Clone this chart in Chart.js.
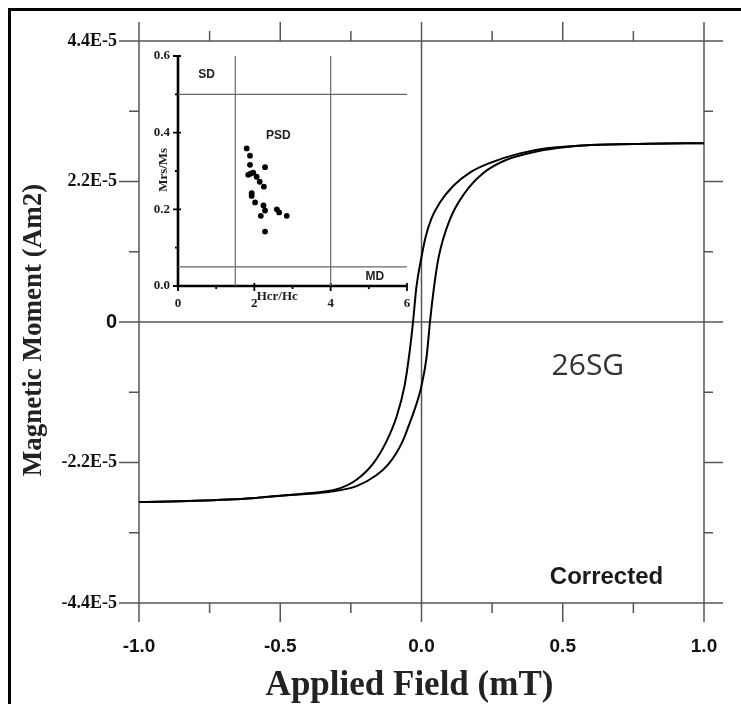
<!DOCTYPE html>
<html><head><meta charset="utf-8">
<script src="https://cdn.jsdelivr.net/npm/chart.js@4.4.0/dist/chart.umd.min.js"></script>
<style>
html,body{margin:0;padding:0;background:#fff;}
#wrap{position:relative;width:741px;height:704px;overflow:hidden;background:#fff;}
#frame{position:absolute;left:8px;top:8px;width:740px;height:700px;border-left:3px solid #000;border-top:3px solid #000;pointer-events:none;}
#main{position:absolute;left:0;top:0;}
#inset{position:absolute;left:130px;top:45px;}
</style></head><body>
<div id="wrap">
<canvas id="main" width="741" height="704"></canvas>
<canvas id="inset" width="290" height="270"></canvas>
<div id="frame"></div>
</div>
<script>
// ---------- main hysteresis loop (field in mT, moment in units of 1E-5 Am2) ----------
const fieldDescending  = [-1.0,-0.8,-0.6,-0.5,-0.4,-0.3,-0.23,-0.17,-0.124,-0.088,-0.06,-0.043,-0.030,-0.018,0.0,0.015,0.035,0.065,0.112,0.171,0.242,0.348,0.443,0.596,0.8,1.0];
const momentDescending = [-2.82,-2.80,-2.76,-2.72,-2.68,-2.62,-2.47,-2.21,-1.87,-1.48,-1.0,-0.50,0.0,0.55,1.02,1.34,1.62,1.87,2.13,2.34,2.49,2.64,2.72,2.77,2.79,2.80];
const fieldAscending   = [-1.0,-0.8,-0.6,-0.5,-0.4,-0.325,-0.23,-0.16,-0.12,-0.09,-0.065,-0.045,-0.025,-0.01,0.0,0.018,0.030,0.043,0.060,0.100,0.153,0.218,0.301,0.407,0.514,0.6,0.8,1.0];
const momentAscending  = [-2.82,-2.80,-2.76,-2.72,-2.69,-2.66,-2.57,-2.40,-2.24,-2.06,-1.85,-1.62,-1.38,-1.17,-1.0,-0.55,0.0,0.50,1.00,1.60,2.02,2.33,2.54,2.67,2.74,2.77,2.79,2.80];

const xTickValues = [-1.0,-0.5,0.0,0.5,1.0];
const xTickLabels = ['-1.0','-0.5','0.0','0.5','1.0'];
const xMinorTickValues = [-0.75,-0.25,0.25,0.75];
const yTickValues = [-4.4,-2.2,0,2.2,4.4];
const yTickLabels = ['-4.4E-5','-2.2E-5','0','2.2E-5','4.4E-5'];
const yMinorTickValues = [-3.3,-1.1,1.1,3.3];
const xAxisTitle = 'Applied Field (mT)';
const yAxisTitle = 'Magnetic Moment (Am2)';

// ---------- inset Day plot ----------
const insetHcrHc = [1.80,1.886,1.886,2.28,1.84,1.90,1.97,2.06,2.14,2.25,1.93,1.93,2.02,2.24,2.28,2.17,2.59,2.65,2.85,2.28];
const insetMrsMs = [0.359,0.340,0.316,0.310,0.290,0.293,0.296,0.285,0.272,0.259,0.242,0.235,0.218,0.210,0.197,0.183,0.200,0.192,0.183,0.142];
const insetXTickValues = [0,2,4,6];
const insetXTickLabels = ['0','2','4','6'];
const insetXMinorTickValues = [1,3,5];
const insetYTickValues = [0,0.2,0.4,0.6];
const insetYTickLabels = ['0.0','0.2','0.4','0.6'];
const insetYMinorTickValues = [0.1,0.3,0.5];
const boundaryMrsMs = [0.5, 0.05];   // SD / MD limits
const boundaryHcrHc = [1.5, 4];      // PSD limits

const SERIF = '"Liberation Serif","Times New Roman",serif';
const SANS = '"Liberation Sans",Arial,sans-serif';
const AXIS = '#555';

function pts(xs, ys){ return xs.map((x,i)=>({x:x, y:ys[i]})); }
function noPad(s){ s.paddingLeft=0; s.paddingRight=0; s.paddingTop=0; s.paddingBottom=0; }

// annotation placement (data coordinates)
const mainNotes = [
  {text:'26SG', x:0.589, y:-0.70, font:'30px "Open Sans", sans-serif', color:'#333'},
  {text:'Corrected', x:0.655, y:-4.0, font:'bold 24px '+SANS, color:'#1a1a1a'}
];

const mainAxesPlugin = {
  id:'mainAxes',
  beforeDatasetsDraw(chart){
    const {ctx, chartArea:a, scales} = chart;
    const sx = scales.x, sy = scales.y;
    const L=a.left, R=a.right, T=a.top, B=a.bottom;
    ctx.save();
    ctx.strokeStyle = AXIS; ctx.lineWidth = 1.5;
    ctx.beginPath();
    const yMin = yTickValues[0], yMax = yTickValues[yTickValues.length-1];
    const xMin = xTickValues[0], xMax = xTickValues[xTickValues.length-1];
    yTickValues.forEach(v=>{
      const p = sy.getPixelForValue(v);
      ctx.moveTo(L-20,p); ctx.lineTo(L,p);
      ctx.moveTo(R,p); ctx.lineTo(R+19,p);
      if (v===yMin||v===yMax||v===0){ ctx.moveTo(L,p); ctx.lineTo(R,p); }
    });
    yMinorTickValues.forEach(v=>{
      const p = sy.getPixelForValue(v);
      ctx.moveTo(L-10,p); ctx.lineTo(L,p);
      ctx.moveTo(R,p); ctx.lineTo(R+9,p);
    });
    xTickValues.forEach(v=>{
      const p = sx.getPixelForValue(v);
      ctx.moveTo(p,T-19); ctx.lineTo(p,T);
      ctx.moveTo(p,B); ctx.lineTo(p,B+19);
      if (v===xMin||v===xMax||v===0){ ctx.moveTo(p,T); ctx.lineTo(p,B); }
    });
    xMinorTickValues.forEach(v=>{
      const p = sx.getPixelForValue(v);
      ctx.moveTo(p,T-10); ctx.lineTo(p,T);
      ctx.moveTo(p,B); ctx.lineTo(p,B+10);
    });
    ctx.stroke();
    ctx.restore();
  },
  afterDatasetsDraw(chart){
    const {ctx, scales, chartArea:a} = chart;
    ctx.save();
    ctx.textAlign='center'; ctx.textBaseline='middle';
    mainNotes.forEach(n=>{
      ctx.font = n.font; ctx.fillStyle = n.color;
      ctx.fillText(n.text, scales.x.getPixelForValue(n.x), scales.y.getPixelForValue(n.y));
    });
    // axis titles
    ctx.fillStyle = '#222';
    ctx.font = 'bold 35px '+SERIF;
    ctx.textBaseline = 'alphabetic';
    ctx.fillText(xAxisTitle, (a.left+a.right)/2 - 12, a.bottom + 92);
    ctx.save();
    ctx.font = 'bold 27px '+SERIF;
    ctx.textBaseline = 'middle';
    ctx.translate(a.left - 105, (a.top+a.bottom)/2 + 8);
    ctx.rotate(-Math.PI/2);
    ctx.fillText(yAxisTitle, 0, 0);
    ctx.restore();
    ctx.restore();
  }
};

new Chart(document.getElementById('main'), {
  type:'scatter',
  data:{datasets:[
    {data:pts(fieldDescending,momentDescending), showLine:true, pointRadius:0, borderColor:'#000', borderWidth:2, cubicInterpolationMode:'monotone'},
    {data:pts(fieldAscending,momentAscending), showLine:true, pointRadius:0, borderColor:'#000', borderWidth:2, cubicInterpolationMode:'monotone'}
  ]},
  options:{
    responsive:false, devicePixelRatio:1, animation:false,
    layout:{padding:{top:41,right:37,left:0,bottom:0}},
    plugins:{legend:{display:false}, tooltip:{enabled:false}},
    scales:{
      x:{type:'linear', min:-1, max:1,
        afterBuildTicks:s=>{ s.ticks = xTickValues.map(v=>({value:v})); },
        afterFit:s=>{ s.height = 101; noPad(s); },
        grid:{display:false, drawTicks:false}, border:{display:false},
        ticks:{padding:32, color:'#111', font:{family:SANS, size:19, weight:'bold'},
          callback:v=>xTickLabels[xTickValues.indexOf(v)], maxRotation:0, autoSkip:false}
      },
      y:{type:'linear', min:-4.4, max:4.4,
        afterBuildTicks:s=>{ s.ticks = yTickValues.map(v=>({value:v})); },
        afterFit:s=>{ s.width = 139; noPad(s); },
        grid:{display:false, drawTicks:false}, border:{display:false},
        ticks:{padding:22, color:'#111', autoSkip:false,
          font:c=> (c.tick && c.tick.value===0) ? {family:SANS, size:20, weight:'bold'} : {family:SERIF, size:18, weight:'bold'},
          callback:v=>yTickLabels[yTickValues.indexOf(v)]}
      }
    }
  },
  plugins:[mainAxesPlugin]
});

// ---------- inset ----------
const insetNotes = [
  {text:'SD', x:0.75, y:0.552, font:'bold 12px '+SANS, rot:false},
  {text:'PSD', x:2.63, y:0.392, font:'bold 12px '+SANS, rot:false},
  {text:'MD', x:5.16, y:0.023, font:'bold 12px '+SANS, rot:false},
  {text:'Hcr/Hc', x:2.6, y:-0.028, font:'bold 13px '+SERIF, rot:false},
  {text:'Mrs/Ms', x:-0.385, y:0.303, font:'bold 13px '+SERIF, rot:true}
];

const insetAxesPlugin = {
  id:'insetAxes',
  beforeDatasetsDraw(chart){
    const {ctx, chartArea:a, scales} = chart;
    const sx = scales.x, sy = scales.y;
    ctx.save();
    ctx.strokeStyle='#000';
    ctx.lineWidth=1.8;
    ctx.beginPath();
    insetYTickValues.forEach(v=>{ const p=sy.getPixelForValue(v); ctx.moveTo(a.left-5,p); ctx.lineTo(a.left+3,p); });
    insetYMinorTickValues.forEach(v=>{ const p=sy.getPixelForValue(v); ctx.moveTo(a.left-3,p); ctx.lineTo(a.left,p); });
    insetXTickValues.forEach(v=>{ const p=sx.getPixelForValue(v); ctx.moveTo(p,a.bottom-3); ctx.lineTo(p,a.bottom+5); });
    insetXMinorTickValues.forEach(v=>{ const p=sx.getPixelForValue(v); ctx.moveTo(p,a.bottom); ctx.lineTo(p,a.bottom+3); });
    ctx.stroke();
    ctx.lineWidth=2.6;
    ctx.beginPath();
    ctx.moveTo(a.left,a.top); ctx.lineTo(a.left,a.bottom); ctx.lineTo(a.right,a.bottom);
    ctx.stroke();
    ctx.restore();
  },
  afterDatasetsDraw(chart){
    const {ctx, scales} = chart;
    ctx.save();
    ctx.fillStyle='#1c1c28'; ctx.textAlign='center'; ctx.textBaseline='middle';
    insetNotes.forEach(n=>{
      const px=scales.x.getPixelForValue(n.x), py=scales.y.getPixelForValue(n.y);
      ctx.font=n.font;
      if(n.rot){ ctx.save(); ctx.translate(px,py); ctx.rotate(-Math.PI/2); ctx.fillText(n.text,0,0); ctx.restore(); }
      else ctx.fillText(n.text,px,py);
    });
    ctx.restore();
  }
};

const insetX = [insetXTickValues[0], insetXTickValues[insetXTickValues.length-1]];
const insetY = [insetYTickValues[0], insetYTickValues[insetYTickValues.length-1]];
const lineStyle = {showLine:true, pointRadius:0, borderColor:'#666', borderWidth:1.2};

new Chart(document.getElementById('inset'), {
  type:'scatter',
  data:{datasets:[
    Object.assign({data:pts(insetX,[boundaryMrsMs[0],boundaryMrsMs[0]])}, lineStyle),
    Object.assign({data:pts(insetX,[boundaryMrsMs[1],boundaryMrsMs[1]])}, lineStyle),
    Object.assign({data:pts([boundaryHcrHc[0],boundaryHcrHc[0]],insetY)}, lineStyle),
    Object.assign({data:pts([boundaryHcrHc[1],boundaryHcrHc[1]],insetY)}, lineStyle),
    {data:pts(insetHcrHc,insetMrsMs), pointRadius:2.9, backgroundColor:'#000', borderWidth:0}
  ]},
  options:{
    responsive:false, devicePixelRatio:1, animation:false,
    layout:{padding:{top:11,right:13,left:0,bottom:0}},
    plugins:{legend:{display:false}, tooltip:{enabled:false}},
    scales:{
      x:{type:'linear', min:0, max:6,
        afterBuildTicks:s=>{ s.ticks = insetXTickValues.map(v=>({value:v})); },
        afterFit:s=>{ s.height = 29; noPad(s); },
        grid:{display:false, drawTicks:false}, border:{display:false},
        ticks:{padding:10, color:'#1c1c28', font:{family:SERIF, size:13, weight:'bold'},
          callback:v=>insetXTickLabels[insetXTickValues.indexOf(v)], maxRotation:0, autoSkip:false}
      },
      y:{type:'linear', min:0, max:0.6,
        afterBuildTicks:s=>{ s.ticks = insetYTickValues.map(v=>({value:v})); },
        afterFit:s=>{ s.width = 48; noPad(s); },
        grid:{display:false, drawTicks:false}, border:{display:false},
        ticks:{padding:8, color:'#1c1c28', font:{family:SERIF, size:13, weight:'bold'},
          callback:v=>insetYTickLabels[insetYTickValues.indexOf(v)], autoSkip:false}
      }
    }
  },
  plugins:[insetAxesPlugin]
});
</script>
</body></html>
